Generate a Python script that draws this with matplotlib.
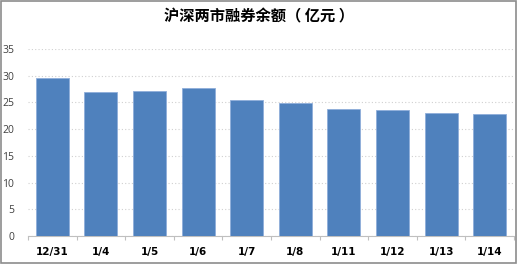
import matplotlib
matplotlib.use('Agg')
import matplotlib.pyplot as plt
import numpy as np

plt.rcParams['font.family'] = ['DejaVu Sans', 'Noto Sans CJK SC']

# data
dates = ['12/31', '1/4', '1/5', '1/6', '1/7', '1/8', '1/11', '1/12', '1/13', '1/14']
balance = [29.5, 26.9, 27.1, 27.7, 25.4, 24.9, 23.8, 23.5, 23.0, 22.8]
yticks = [0, 5, 10, 15, 20, 25, 30, 35]

fig = plt.figure(figsize=(5.17, 2.64), dpi=100)
ax = fig.add_axes([28/517, 28/264, 486/517, 187/264])

x = np.arange(len(dates))
ax.bar(x, balance, width=0.68, color='#4F81BD', edgecolor='#8FAEDA', linewidth=0.6, zorder=3)

ax.set_xlim(-0.5, len(dates) - 0.5)
ax.set_ylim(0, 35)
ax.set_yticks(yticks)
ax.set_yticklabels([str(v) for v in yticks], fontsize=7.5, color='#404040',
                   family=['Open Sans', 'DejaVu Sans'])
ax.tick_params(axis='y', length=0, pad=10)
ax.set_xticks(x)
ax.set_xticklabels(dates, fontsize=7.5, fontweight='bold', color='black')
ax.tick_params(axis='x', which='major', length=0, pad=8)
ax.set_xticks(np.arange(-0.5, len(dates)), minor=True)
ax.tick_params(axis='x', which='minor', length=3, color='#BFBFBF', width=0.8)

ax.grid(axis='y', linestyle=(0, (1, 2)), color='#D0D0D0', linewidth=0.8, zorder=0)
for s in ['top', 'right', 'left']:
    ax.spines[s].set_visible(False)
ax.spines['bottom'].set_color('#BFBFBF')
ax.spines['bottom'].set_linewidth(0.8)

fig.text(0.5, 1 - 16/264, '沪深两市融券余额（ 亿元 ）', ha='center', va='center',
         fontsize=11, fontweight='bold', family=['Noto Sans CJK SC', 'DejaVu Sans'])

# gray frame around the whole picture
frame = plt.Rectangle((0.001, 0.002), 0.997, 0.995, transform=fig.transFigure,
                      fill=False, edgecolor='#8C8C8C', linewidth=1.2)
fig.patches.append(frame)

fig.savefig('out.png', dpi=100)
